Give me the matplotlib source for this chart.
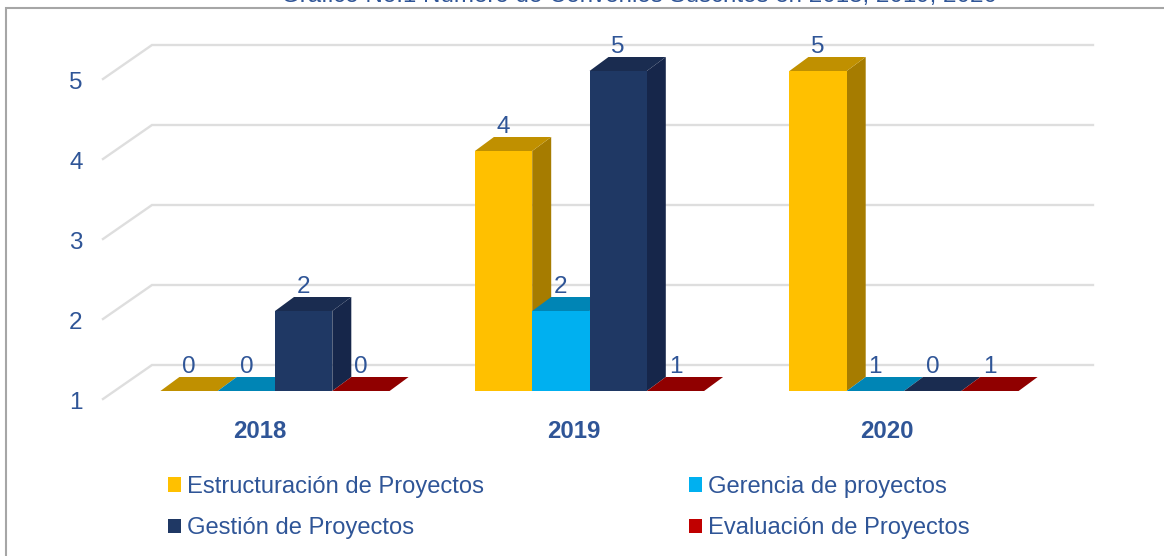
import matplotlib
matplotlib.use("Agg")
import matplotlib.pyplot as plt
from matplotlib.lines import Line2D
from matplotlib.patches import Patch

years = ["2018", "2019", "2020"]
series = ["Estructuración de Proyectos", "Gerencia de proyectos",
          "Gestión de Proyectos", "Evaluación de Proyectos"]
estructuracion = [0, 4, 5]
gerencia = [0, 2, 1]
gestion = [2, 5, 0]
evaluacion = [0, 1, 1]
y_ticks = [1, 2, 3, 4, 5]
title = "Gráfico No.1 Número de Convenios Suscritos en 2018, 2019, 2020"

TEXT = "#2F5597"
GRID = "#DEDEDE"
FRAME = "#A6A6A6"
# front, top, side
COLORS = [("#FFC000", "#C09000", "#A67C00"),
          ("#00B0F0", "#0085B5", "#00759F"),
          ("#1F3864", "#1A2C50", "#16264A"),
          ("#C00000", "#900000", "#7A0000")]
LEGEND_COLORS = ["#FFC000", "#00B0F0", "#1F3864", "#C00000"]

plt.rcParams["font.family"] = ["Liberation Sans", "DejaVu Sans"]

W, H = 1164, 556
PX_X = 314.5  # pixels per group
PX_Y = 80.0   # pixels per value unit
X0, Y0 = 275.0, 391.0  # pixel position of x=0, y=1

fig = plt.figure(figsize=(W / 100, H / 100), dpi=100)
ax = fig.add_axes([0, 0, 1, 1])
ax.set_xlim(-X0 / PX_X, (W - X0) / PX_X)
ax.set_ylim(1 - (H - Y0) / PX_Y, 1 + Y0 / PX_Y)
ax.axis("off")

bar_w = 57.3 / PX_X
depth_x = 19 / PX_X
depth_y = 14 / PX_Y
# the wall sits further back than the bars
wall_x0 = (152 - X0) / PX_X
wall_x1 = (1093 - X0) / PX_X
wall_dy = 26 / PX_Y
front_x = (103 - X0) / PX_X
front_dy = -8 / PX_Y

for v in y_ticks:
    ax.plot([front_x, wall_x0, wall_x1], [v + front_dy, v + wall_dy, v + wall_dy],
            color=GRID, lw=1.7, solid_joinstyle="miter", zorder=1)
    ax.text(front_x - 27 / PX_X, v + front_dy - 4 / PX_Y, str(v), color=TEXT, fontsize=17.5,
            ha="center", va="center")

all_values = [estructuracion, gerencia, gestion, evaluacion]
for g, year in enumerate(years):
    for s, values in enumerate(all_values):
        v = values[g]
        top = max(v, 1)  # axis starts at 1, smaller values lie flat
        x0 = g + (s - 2) * bar_w
        x1 = x0 + bar_w
        front, top_c, side = COLORS[s]
        ax.fill([x1, x1 + depth_x, x1 + depth_x, x1],
                [1, 1 + depth_y, top + depth_y, top], color=side, lw=0, zorder=2)
        ax.fill([x0, x1, x1 + depth_x, x0 + depth_x],
                [top, top, top + depth_y, top + depth_y], color=top_c, lw=0, zorder=2)
        ax.fill([x0, x1, x1, x0], [1, 1, top, top], color=front, lw=0, zorder=2)
        ax.text((x0 + x1) / 2, top + 24 / PX_Y, str(v), color=TEXT, fontsize=17.5,
                ha="center", va="center", zorder=4)
    ax.text(g * 313.5 / PX_X - 15 / PX_X, 1 - 41 / PX_Y, year, color=TEXT, fontsize=17.3,
            fontweight="bold", ha="center", va="center")

ax.text((638.5 - X0) / PX_X, 1 + (Y0 + 4) / PX_Y, title, color=TEXT, fontsize=17.4,
        ha="center", va="center", clip_on=False)

# chart frame: only the top and left sides are inside the picture
frame_y = 1 - 7.5 / H
fig.add_artist(Line2D([6 / W, 6 / W, 1], [0, frame_y, frame_y], transform=fig.transFigure,
                      color=FRAME, lw=1.5, solid_joinstyle="miter", zorder=0))

# legend fills by column, so swap the middle two to read row by row
order = [0, 2, 1, 3]
handles = [Patch(facecolor=LEGEND_COLORS[i], edgecolor="none") for i in order]
labels = [series[i] for i in order]
leg = ax.legend(handles, labels, ncol=2, frameon=False, fontsize=17.1,
                loc="upper left", bbox_to_anchor=(168 / W, 1 - 476 / H),
                bbox_transform=fig.transFigure, borderaxespad=0, borderpad=0,
                handlelength=0.55, handleheight=0.55, handletextpad=0.26,
                columnspacing=8.63, labelspacing=0.81)
for t in leg.get_texts():
    t.set_color(TEXT)

fig.savefig("out.png", dpi=100)
